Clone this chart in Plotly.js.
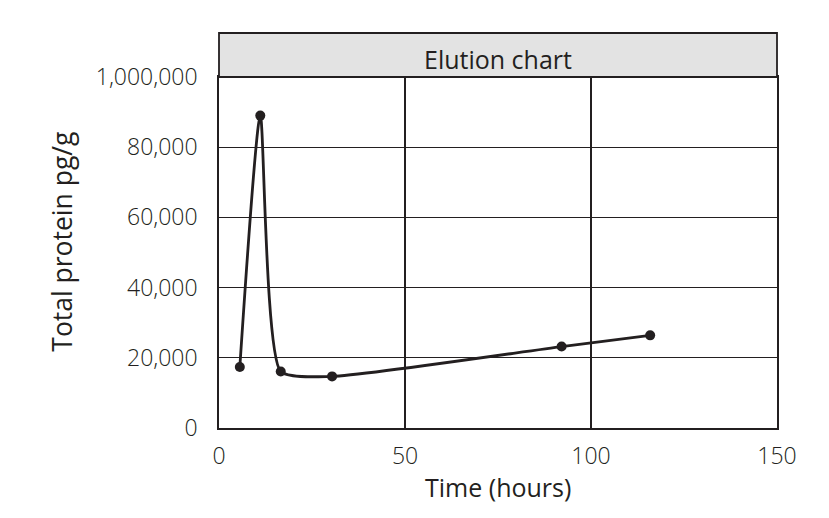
<!DOCTYPE html>
<html>
<head>
<meta charset="utf-8">
<script src="https://cdn.plot.ly/plotly-3.0.1.min.js"></script>
<style>
  html, body { margin: 0; padding: 0; background: #ffffff; }
  #chart { width: 829px; height: 518px; }
</style>
</head>
<body>
<div id="chart"></div>
<script>
  // elution time points (hours) and measured total protein
  var timeHours = [5.6, 11.1, 16.6, 30.4, 92.1, 115.9];
  var proteinPgG = [17400, 89000, 16100, 14700, 23200, 26400];

  var yTickVals = [0, 20000, 40000, 60000, 80000, 100000];
  var yTickText = ['0', '20,000', '40,000', '60,000', '80,000', '1,000,000'];
  var xTickVals = [0, 50, 100, 150];

  var ink = '#231f20';
  var tickFont = { family: '"Open Sans", sans-serif', size: 23, color: ink, weight: 300 };
  var labelFont = { family: '"Open Sans", sans-serif', size: 25, color: ink };

  var trace = {
    type: 'scatter',
    mode: 'lines+markers',
    x: timeHours,
    y: proteinPgG,
    line: { color: ink, width: 2.8, shape: 'spline', smoothing: 0.55 },
    marker: { color: ink, size: 10 },
    hoverinfo: 'x+y'
  };

  var layout = {
    width: 829,
    height: 518,
    margin: { l: 219, r: 52, t: 77, b: 90 },
    paper_bgcolor: '#ffffff',
    plot_bgcolor: '#ffffff',
    showlegend: false,
    font: labelFont,
    xaxis: {
      range: [0, 150],
      tickvals: xTickVals,
      ticks: 'outside',
      ticklen: 7,
      tickcolor: 'rgba(0,0,0,0)',
      tickfont: tickFont,
      showgrid: true,
      gridcolor: ink,
      gridwidth: 1.4,
      zeroline: false,
      showline: true,
      linecolor: ink,
      linewidth: 1.8,
      mirror: true
    },
    yaxis: {
      range: [0, 100000],
      tickvals: yTickVals,
      ticktext: yTickText,
      ticks: 'outside',
      ticklen: 15,
      tickcolor: 'rgba(0,0,0,0)',
      tickfont: tickFont,
      showgrid: true,
      gridcolor: ink,
      gridwidth: 1.4,
      zeroline: false,
      showline: true,
      linecolor: ink,
      linewidth: 1.8,
      mirror: true
    },
    shapes: [{
      type: 'rect',
      xref: 'paper', yref: 'paper',
      x0: 0, x1: 1, y0: 1, y1: 1 + 44 / 351,
      fillcolor: '#e3e3e3',
      line: { color: ink, width: 1.8 }
    }],
    annotations: [
      {
        text: 'Elution chart',
        xref: 'paper', yref: 'paper',
        x: 0.5, y: 1 + 18 / 351,
        xanchor: 'center', yanchor: 'middle',
        showarrow: false,
        font: labelFont
      },
      {
        text: 'Time (hours)',
        xref: 'paper', yref: 'paper',
        x: 0.5, y: -59 / 351,
        xanchor: 'center', yanchor: 'middle',
        showarrow: false,
        font: labelFont
      },
      {
        text: 'Total protein pg/g',
        xref: 'paper', yref: 'paper',
        x: -157 / 557, y: (428 - 242) / 351,
        xanchor: 'center', yanchor: 'middle',
        textangle: -90,
        showarrow: false,
        font: { family: '"Open Sans", sans-serif', size: 26.5, color: ink }
      }
    ]
  };

  Plotly.newPlot('chart', [trace], layout, { displayModeBar: false, staticPlot: true });
</script>
</body>
</html>
